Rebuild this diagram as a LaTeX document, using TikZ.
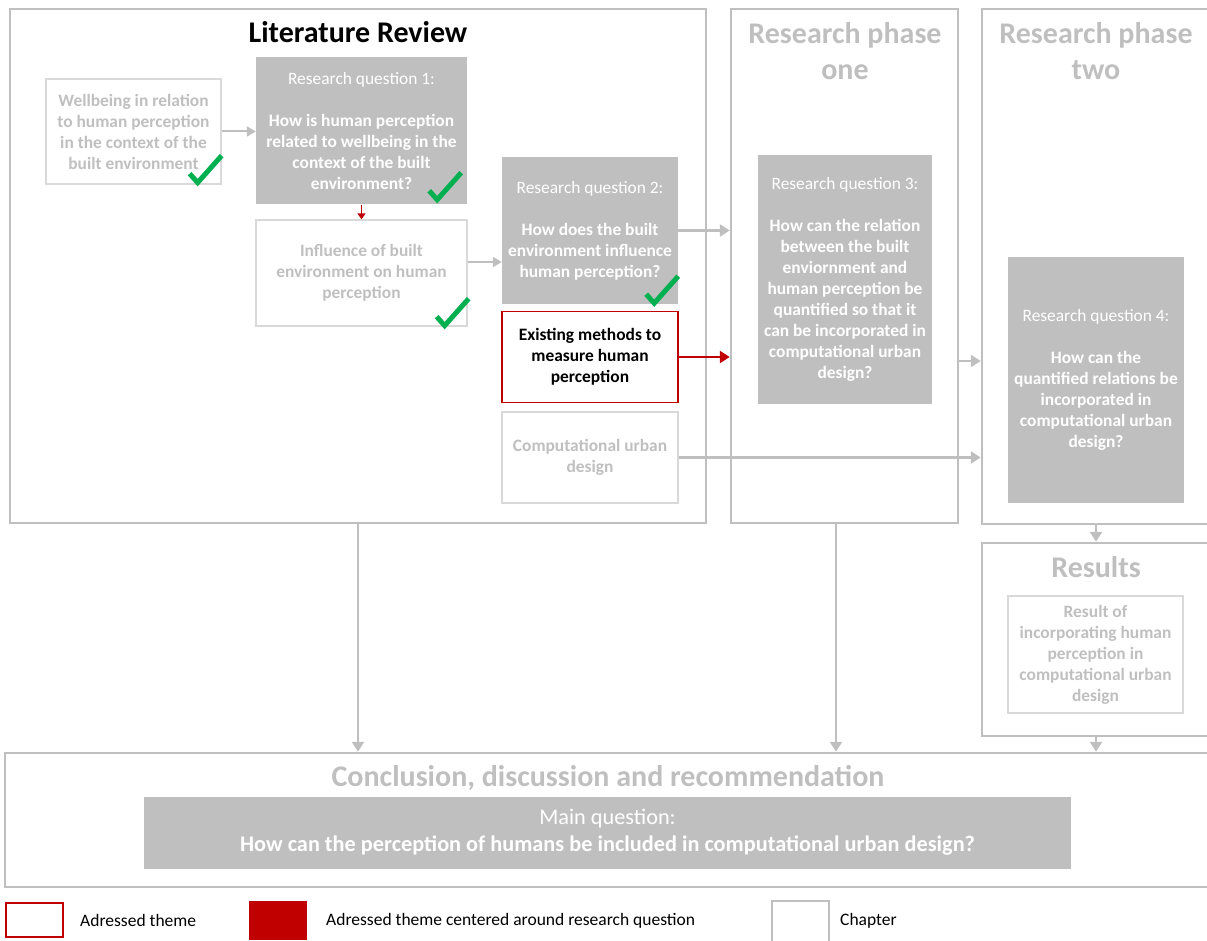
\documentclass[tikz,border=0pt]{standalone}
\usepackage{fontspec}
\setmainfont{Carlito}
\usetikzlibrary{arrows.meta,calc}
\definecolor{chapgray}{HTML}{BFBFBF}
\definecolor{themegray}{HTML}{D9D9D9}
\definecolor{rqfill}{HTML}{BFBFBF}
\definecolor{darkred}{HTML}{C00000}
\definecolor{checkgreen}{HTML}{00B050}
\newcommand\checkat[1]{\draw[checkmark] (#1) -- ++(8,9) -- ++(24,-27);}
\begin{document}
\begin{tikzpicture}[x=1pt,y=-1pt,
  chapter/.style={draw=chapgray,line width=2.5pt,inner sep=0pt},
  chaptitle/.style={text=chapgray,font=\fontsize{30}{36}\selectfont\bfseries,align=center,inner sep=0pt},
  theme/.style={draw=themegray,line width=1.3pt,inner sep=0pt,align=center,
    text=chapgray,font=\fontsize{17.4}{21}\selectfont\bfseries},
  rq/.style={fill=rqfill,inner sep=0pt,align=center,text=white,
    font=\fontsize{17.4}{21}\selectfont},
  addressed/.style={draw=darkred,line width=1.3pt,inner sep=0pt,align=center,
    text=black,font=\fontsize{17.4}{21}\selectfont\bfseries},
  arr/.style={draw=chapgray,line width=2.5pt,-{Triangle[length=10pt,width=12pt]}},
  thinarr/.style={draw=chapgray,line width=2pt,-{Triangle[length=9pt,width=10pt]}},
  redarr/.style={draw=darkred,line width=2.5pt,-{Triangle[length=10pt,width=12pt]}},
  smallred/.style={draw=darkred,line width=1.5pt,-{Triangle[length=6pt,width=8pt]}},
  checkmark/.style={draw=checkgreen,line width=5pt},
  legtext/.style={anchor=west,inner sep=0pt,font=\fontsize{17.5}{21}\selectfont}]

\useasboundingbox (0,0) rectangle (1207,941);

% chapters
\node[chapter,minimum width=696,minimum height=514] (lit) at (358,266) {};
\node[chapter,minimum width=227,minimum height=514] (p1) at (844.5,266) {};
\node[chapter,minimum width=232,minimum height=515] (p2) at (1098,266.5) {};
\node[chapter,minimum width=232,minimum height=193] (res) at (1098,639.5) {};
\node[chapter,minimum width=1209,minimum height=134] (conc) at (609.5,820) {};

% chapter titles
\node[chaptitle,text=black] (littitle) at (358,32.5) {Literature Review};
\node[chaptitle] (p1title) at (845,51) {Research phase\\one};
\node[chaptitle] (p2title) at (1096,51) {Research phase\\two};
\node[chaptitle] (restitle) at (1096,567) {Results};
\node[chaptitle] (conctitle) at (608,778) {Conclusion, discussion and recommendation};

% literature review content
\node[theme,minimum width=175,minimum height=105] (wb) at (133.5,131.5)
  {Wellbeing in relation\\to human perception\\in the context of the\\built environment};
\node[rq,minimum width=211,minimum height=147] (rq1) at (361.5,131)
  {Research question 1:\\[21pt]\bfseries How is human perception\\\bfseries related to wellbeing in the\\\bfseries context of the built\\\bfseries environment?};
\node[theme,minimum width=211,minimum height=106] (infl) at (361.5,273)
  {Influence of built\\environment on human\\perception};
\node[rq,minimum width=176,minimum height=147] (rq2) at (590,230.5)
  {Research question 2:\\[21pt]\bfseries How does the built\\\bfseries environment influence\\\bfseries human perception?};
\node[addressed,minimum width=176,minimum height=91] (exist) at (590,357)
  {Existing methods to\\measure human\\perception};
\node[theme,minimum width=176,minimum height=91] (comp) at (590,457.5)
  {Computational urban\\design};

% research phases
\node[rq,minimum width=174,minimum height=249] (rq3) at (845,279.5)
  {Research question 3:\\[21pt]\bfseries How can the relation\\\bfseries between the built\\\bfseries enviornment and\\\bfseries human perception be\\\bfseries quantified so that it\\\bfseries can be incorporated in\\\bfseries computational urban\\\bfseries design?};
\node[rq,minimum width=176,minimum height=246] (rq4) at (1096,380)
  {Research question 4:\\[21pt]\bfseries How can the\\\bfseries quantified relations be\\\bfseries incorporated in\\\bfseries computational urban\\\bfseries design?};
\node[theme,minimum width=175,minimum height=117] (resin) at (1095.5,654.5)
  {Result of\\incorporating human\\perception in\\computational urban\\design};
\node[rq,minimum width=927,minimum height=72,font=\fontsize{22.3}{27}\selectfont] (mq) at (607.5,832.5)
  {Main question:\\\bfseries How can the perception of humans be included in computational urban design?};

% check marks
\checkat{$(wb.south east)+(-32,-11)$}
\checkat{$(rq1.south east)+(-38,-14)$}
\checkat{$(infl.south east)+(-31,-10)$}
\checkat{$(rq2.south east)+(-32,-10)$}

% connector end points
\coordinate (inflout) at ($(infl.east)+(0,-11)$);
\coordinate (p1out) at ($(p1.south)+(-8.5,0)$);
\coordinate (p1side) at (p1.east |- 0,361);

% connectors
\draw[thinarr] (wb.east) -- (wb.east -| rq1.west);
\draw[smallred] (rq1.south) -- (infl.north);
\draw[thinarr] (inflout) -- (inflout -| rq2.west);
\draw[arr] (rq2.east) -- (rq2.east -| p1.west);
\draw[redarr] (exist.east) -- (exist.east -| p1.west);
\draw[arr] (comp.east) -- (comp.east -| p2.west);
\draw[arr] (p1side) -- (p1side -| p2.west);
\draw[arr] (rq4.south |- p2.south) -- (rq4.south |- res.north);
\draw[arr] (rq4.south |- res.south) -- (rq4.south |- conc.north);
\draw[arr] (lit.south) -- (lit.south |- conc.north);
\draw[arr] (p1out) -- (p1out |- conc.north);

% legend
\node[draw=darkred,line width=1.3pt,minimum width=57,minimum height=34,inner sep=0pt] (leg1) at (34.5,920) {};
\node[legtext] (leg1t) at (80,920) {Adressed theme};
\node[fill=darkred,minimum width=58,minimum height=39,inner sep=0pt] (leg2) at (278,920.5) {};
\node[legtext] (leg2t) at (326,921) {Adressed theme centered around research question};
\node[chapter,minimum width=57,minimum height=44] (leg3) at (800.5,923) {};
\node[legtext] (leg3t) at (840,921) {Chapter};
\end{tikzpicture}
\end{document}
